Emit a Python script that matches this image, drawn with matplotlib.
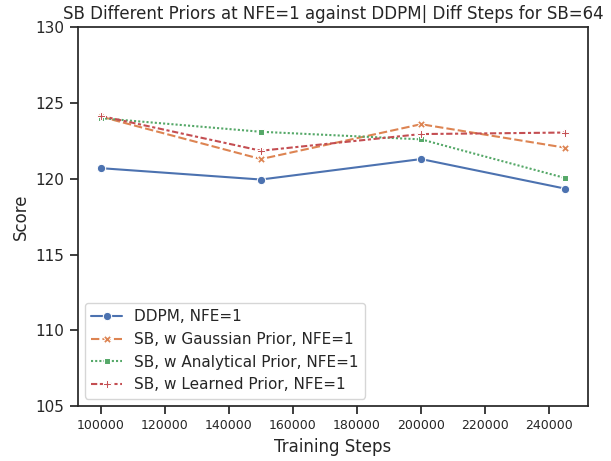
import numpy as np
import pandas as pd
import matplotlib
matplotlib.use("Agg")
import matplotlib.pyplot as plt
import seaborn as sns

steps = [100000, 150000, 200000, 245000]
ddpm = [120.7, 119.95, 121.3, 119.35]
sb_gaussian = [124.1, 121.3, 123.6, 122.05]
sb_analytical = [124.0, 123.1, 122.6, 120.05]
sb_learned = [124.15, 121.85, 122.95, 123.05]

labels = [
    "DDPM, NFE=1",
    "SB, w Gaussian Prior, NFE=1",
    "SB, w Analytical Prior, NFE=1",
    "SB, w Learned Prior, NFE=1",
]

frames = []
for name, vals in zip(labels, [ddpm, sb_gaussian, sb_analytical, sb_learned]):
    frames.append(pd.DataFrame({"Training Steps": steps, "Score": vals, "Method": name}))
df = pd.concat(frames, ignore_index=True)

sns.set_theme(style="ticks", context="notebook")

fig, ax = plt.subplots(figsize=(6.11, 4.61), dpi=100)
sns.lineplot(data=df, x="Training Steps", y="Score", hue="Method", style="Method",
             markers=True, dashes=True, ax=ax)

ax.set_ylim(105, 130)
ax.set_title("SB Different Priors at NFE=1 against DDPM| Diff Steps for SB=64", fontsize=12)
ax.tick_params(axis="x", labelsize=9)
ax.tick_params(axis="y", labelsize=11)
ax.legend(loc="lower left", title=None, fontsize=11)

fig.subplots_adjust(left=0.127, right=0.963, top=0.941, bottom=0.119)
fig.savefig("out.png", dpi=100)
